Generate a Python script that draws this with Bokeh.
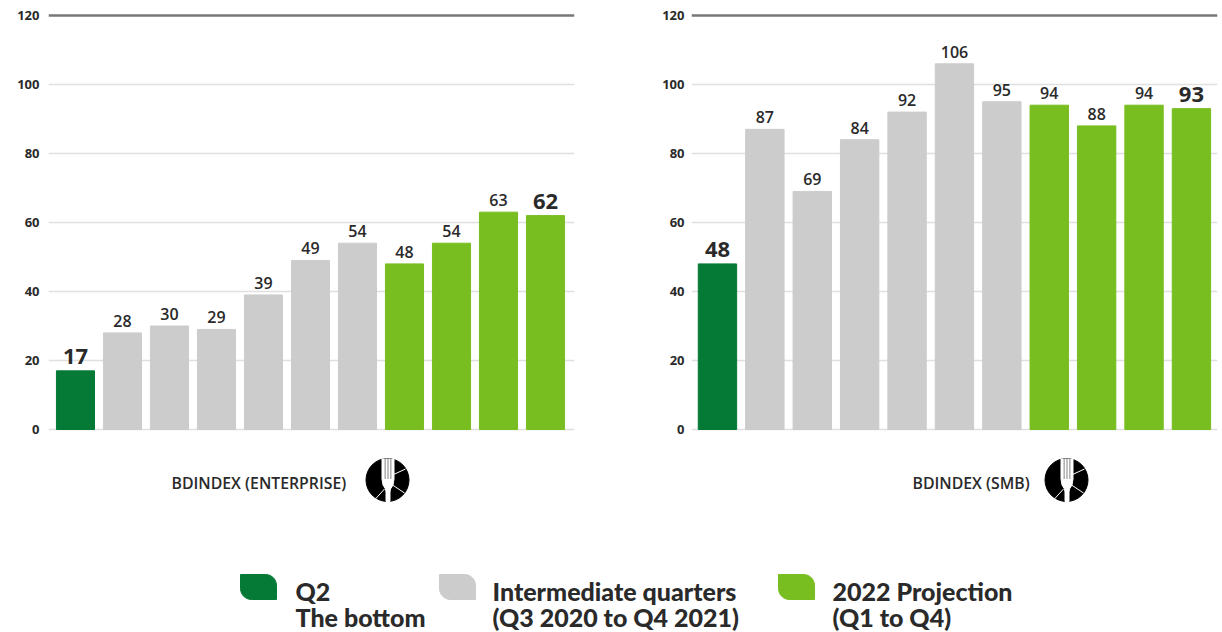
import numpy as np
from bokeh.core.properties import value
from bokeh.embed import file_html
from bokeh.layouts import column, row
from bokeh.models import ColumnDataSource, FixedTicker, Range1d, Span
from bokeh.plotting import figure
from bokeh.resources import INLINE

QUARTERS = ["Q2 2020", "Q3 2020", "Q4 2020", "Q1 2021", "Q2 2021", "Q3 2021", "Q4 2021",
            "Q1 2022", "Q2 2022", "Q3 2022", "Q4 2022"]
ENTERPRISE = [17, 28, 30, 29, 39, 49, 54, 48, 54, 63, 62]
SMB = [48, 87, 69, 84, 92, 106, 95, 94, 88, 94, 93]
TICKS = [0, 20, 40, 60, 80, 100, 120]

DARK_GREEN = "#057a36"
GREY = "#cccccc"
GREEN = "#78be20"
INK = "#2a2a2a"
SANS = "Open Sans"
SEMI = "Open Sans SemiBold"

BAR_COLORS = [DARK_GREEN] + [GREY] * 6 + [GREEN] * 4
# The first and last bar of each panel carry the larger headline figure
LABEL_SIZES = ["22px"] + ["16px"] * 9 + ["22px"]
LABEL_STYLES = ["bold"] + ["normal"] * 9 + ["bold"]
LABEL_FONTS = [SANS] + [SEMI] * 9 + [SANS]
LABEL_LIFTS = [-14] + [-12] * 9 + [-14]


def panel(values, x_start, x_end, border_left, border_right, standoff):
    p = figure(width=border_left + 526 + border_right, height=445,
               x_range=Range1d(x_start, x_end), y_range=Range1d(-1.159, 122.03),
               output_backend="svg", toolbar_location=None,
               min_border_left=border_left, min_border_right=border_right,
               min_border_top=8, min_border_bottom=12, outline_line_color=None)
    src = ColumnDataSource(dict(
        x=np.arange(len(values)), quarter=QUARTERS, top=values, color=BAR_COLORS,
        label=[str(v) for v in values], size=LABEL_SIZES, style=LABEL_STYLES,
        font=LABEL_FONTS, lift=LABEL_LIFTS))
    p.vbar(x="x", top="top", bottom=0, width=0.81, color="color", source=src)
    p.text(x="x", y="top", text="label", text_align="center", text_baseline="middle",
           y_offset="lift", text_font="font", text_font_size="size", text_font_style="style",
           text_color=INK, source=src)

    p.xaxis.visible = False
    p.xgrid.visible = False
    p.ygrid.ticker = FixedTicker(ticks=TICKS[:-1])
    p.ygrid.grid_line_color = "#e0e0e0"
    p.ygrid.grid_line_width = 1.5
    p.add_layout(Span(location=120, dimension="width", line_color="#777777", line_width=2.5))

    ax = p.yaxis[0]
    ax.ticker = FixedTicker(ticks=TICKS)
    ax.axis_line_color = None
    ax.major_tick_line_color = None
    ax.minor_tick_line_color = None
    ax.major_label_standoff = standoff
    ax.major_label_text_font = SANS
    ax.major_label_text_font_size = "13px"
    ax.major_label_text_font_style = "bold"
    ax.major_label_text_color = INK
    return p


left = panel(ENTERPRISE, -0.574, 10.617, 48, 37, 3)
right = panel(SMB, -0.548, 10.55, 80, 5, 1)

# Footer: panel captions, fork badges and the colour key, in page pixels
foot = figure(width=1222, height=187, x_range=Range1d(0, 1222), y_range=Range1d(632, 445),
              output_backend="svg", toolbar_location=None, min_border=0, outline_line_color=None)
foot.axis.visible = False
foot.grid.visible = False


def badge(cx, cy, r=21.5):
    foot.circle(x=[cx], y=[cy], radius=r, color="black")
    # Spokes dividing the disc into slices
    foot.multi_line(xs=[[cx + 5, cx + 18], [cx + 5, cx + 17], [cx - 3, cx - 13]],
                    ys=[[cy - 5, cy - 11], [cy + 5, cy + 13], [cy + 9, cy + 20]],
                    line_color="white", line_width=1)
    # Fork: head and handle, then the gaps between tines
    head_x = [-5.5, 6.5, 6.5, 5.5, 3, 2.5, 2.5, -1.5, -1.5, -2, -4.5, -5.5]
    head_y = [-21, -21, -1, 5, 9, 12, 21.5, 21.5, 12, 9, 5, -1]
    foot.patch(x=[cx + v for v in head_x], y=[cy + v for v in head_y], color="white")
    foot.quad(left=[cx - 2.8, cx + 0.1, cx + 3], right=[cx - 2, cx + 0.9, cx + 3.8],
              top=[cy - 22, cy - 22, cy - 22], bottom=[cy - 1, cy - 1, cy - 1],
              color="#666666", line_color=None)


def caption(x, text):
    foot.text(x=[x], y=[482], text=[text], text_align="left", text_baseline="middle",
              text_font=value(SEMI), text_font_size="15.8px", text_color=INK)


caption(171, "BDINDEX (ENTERPRISE)")
caption(912, "BDINDEX (SMB)")
badge(387, 479.5)
badge(1066, 479.5)


def leaf(x0, color, w=36, y0=574, h=25, r=11):
    # Key swatch: square corners top-left and bottom-right, rounded on the other two
    t = np.linspace(0, np.pi / 2, 12)
    xs = [x0] + list(x0 + w - r + r * np.sin(t)) + [x0 + w] + list(x0 + r - r * np.sin(t))
    ys = [y0] + list(y0 + r - r * np.cos(t)) + [y0 + h] + list(y0 + h - r + r * np.cos(t))
    foot.patch(x=xs, y=ys, color=color)


KEY = [(240, 295, DARK_GREEN, "Q2", "The bottom"),
       (439, 492, GREY, "Intermediate quarters", "(Q3 2020 to Q4 2021)"),
       (778, 832, GREEN, "2022 Projection", "(Q1 to Q4)")]
for swatch_x, text_x, color, first, second in KEY:
    leaf(swatch_x, color)
    foot.text(x=[text_x, text_x], y=[590, 616], text=[first, second], text_align="left",
              text_baseline="middle", text_font=value("Lato Black"), text_font_size="25px",
              text_color=INK)

page = column(row(left, right, spacing=0), foot, spacing=0)
open("out.html", "w").write(file_html(page, INLINE))
